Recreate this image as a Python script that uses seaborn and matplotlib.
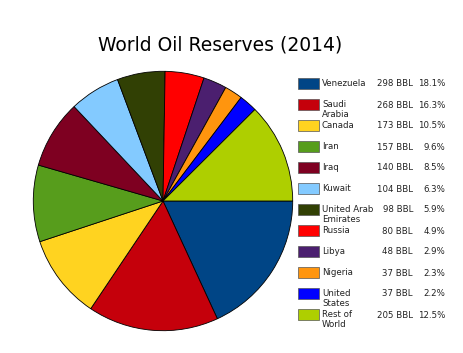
import matplotlib
matplotlib.use("Agg")
import matplotlib.pyplot as plt
import seaborn as sns
from matplotlib.patches import Rectangle

sns.set_style("white")
plt.rcParams['font.family'] = ['DejaVu Sans']

countries = ["Venezuela", "Saudi\nArabia", "Canada", "Iran", "Iraq", "Kuwait",
             "United Arab\nEmirates", "Russia", "Libya", "Nigeria", "United\nStates",
             "Rest of\nWorld"]
reserves = [298, 268, 173, 157, 140, 104, 98, 80, 48, 37, 37, 205]
shares = ["18.1%", "16.3%", "10.5%", "9.6%", "8.5%", "6.3%", "5.9%", "4.9%",
          "2.9%", "2.3%", "2.2%", "12.5%"]
colors = ["#004586", "#c5000b", "#ffd320", "#579d1c", "#7e0021", "#83caff",
          "#314004", "#ff0000", "#4b1f6f", "#ff950e", "#0000ff", "#aecf00"]

W, H = 463, 353
fig = plt.figure(figsize=(W / 100, H / 100), dpi=100)

# pie axes
cx, cy, r = 163, 201, 131
ax = fig.add_axes([(cx - r) / W, 1 - (cy + r) / H, 2 * r / W, 2 * r / H])
ax.pie(reserves, colors=colors, startangle=0, counterclock=False,
       wedgeprops=dict(edgecolor="black", linewidth=0.6), radius=1)
ax.set_xlim(-1.01, 1.01)
ax.set_ylim(-1.01, 1.01)
ax.set_aspect("auto")
ax.axis("off")

fig.text(220 / W, 1 - 45 / H, "World Oil Reserves (2014)", fontsize=13.5,
         ha="center", va="center", color="black")

# legend overlay in pixel coordinates
lg = fig.add_axes([0, 0, 1, 1])
lg.set_xlim(0, W)
lg.set_ylim(H, 0)
lg.axis("off")
y0, dy = 78, 21
for i, (name, val, pct, col) in enumerate(zip(countries, reserves, shares, colors)):
    top = y0 + i * dy
    lg.add_patch(Rectangle((298, top), 21, 11, facecolor=col, edgecolor="#555555",
                           linewidth=0.5))
    lg.text(322, top + 1, name, fontsize=6.2, ha="left", va="top",
            linespacing=1.2, color="#222222")
    lg.text(413, top + 6, f"{val} BBL", fontsize=6.2, ha="right", va="center",
            color="#222222")
    lg.text(445, top + 6, pct, fontsize=6.2, ha="right", va="center", color="#222222")

fig.savefig("out.png", dpi=100)
